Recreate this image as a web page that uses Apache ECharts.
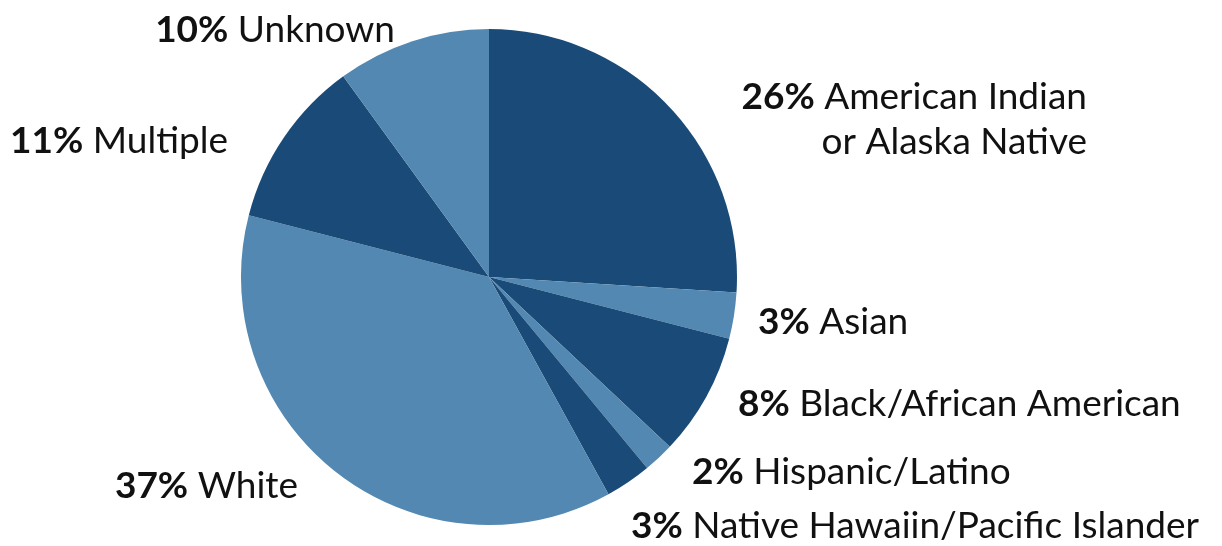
<!DOCTYPE html>
<html>
<head>
<meta charset="utf-8">
<script src="https://cdn.jsdelivr.net/npm/echarts@6/dist/echarts.min.js"></script>
<style>
  html, body { margin: 0; padding: 0; background: #fff; }
  #chart { width: 1222px; height: 546px; }
</style>
</head>
<body>
<div id="chart"></div>
<script>
// slices, clockwise from 12 o'clock
const categories = [
  'American Indian\nor Alaska Native',
  'Asian',
  'Black/African American',
  'Hispanic/Latino',
  'Native Hawaiin/Pacific Islander',
  'White',
  'Multiple',
  'Unknown'
];
const values = [26, 3, 8, 2, 3, 37, 11, 10];
const pctLabels = ['26%', '3%', '8%', '2%', '3%', '37%', '11%', '10%'];

const DARK = '#1a4a77';
const LIGHT = '#5288b1';

// where each label sits (x, y of anchor, alignment)
const labelPos = [
  { x: 1087, y: 120, align: 'right' },
  { x: 758, y: 322, align: 'left' },
  { x: 738, y: 404, align: 'left' },
  { x: 692, y: 472, align: 'left' },
  { x: 631, y: 526, align: 'left' },
  { x: 298, y: 486, align: 'right' },
  { x: 228, y: 141, align: 'right' },
  { x: 395, y: 30, align: 'right' }
];

const myChart = echarts.init(document.getElementById('chart'));

const seriesData = categories.map((name, i) => ({
  name: name,
  value: values[i],
  pct: pctLabels[i],
  itemStyle: { color: i % 2 === 0 ? DARK : LIGHT }
}));

myChart.setOption({
  animation: false,
  series: [{
    type: 'pie',
    center: [489, 277],
    radius: [0, 248],
    startAngle: 90,
    clockwise: true,
    data: seriesData,
    itemStyle: { borderWidth: 0 },
    emphasis: { disabled: true },
    label: {
      show: true,
      position: 'outside',
      overflow: 'none',
      width: 700,
      fontFamily: 'Lato',
      fontSize: 37,
      color: '#111',
      lineHeight: 45,
      formatter: (p) => {
        const lines = p.name.split('\n');
        lines[0] = '{b|' + p.data.pct + '} ' + lines[0];
        return lines.join('\n');
      },
      rich: {
        b: { fontFamily: 'Lato', fontWeight: 'bold', fontSize: 37, color: '#111', lineHeight: 45 }
      }
    },
    labelLine: { show: false },
    labelLayout: (params) => {
      const pos = labelPos[params.dataIndex];
      return { x: pos.x, y: pos.y, align: pos.align, verticalAlign: 'middle' };
    }
  }]
});
</script>
</body>
</html>
